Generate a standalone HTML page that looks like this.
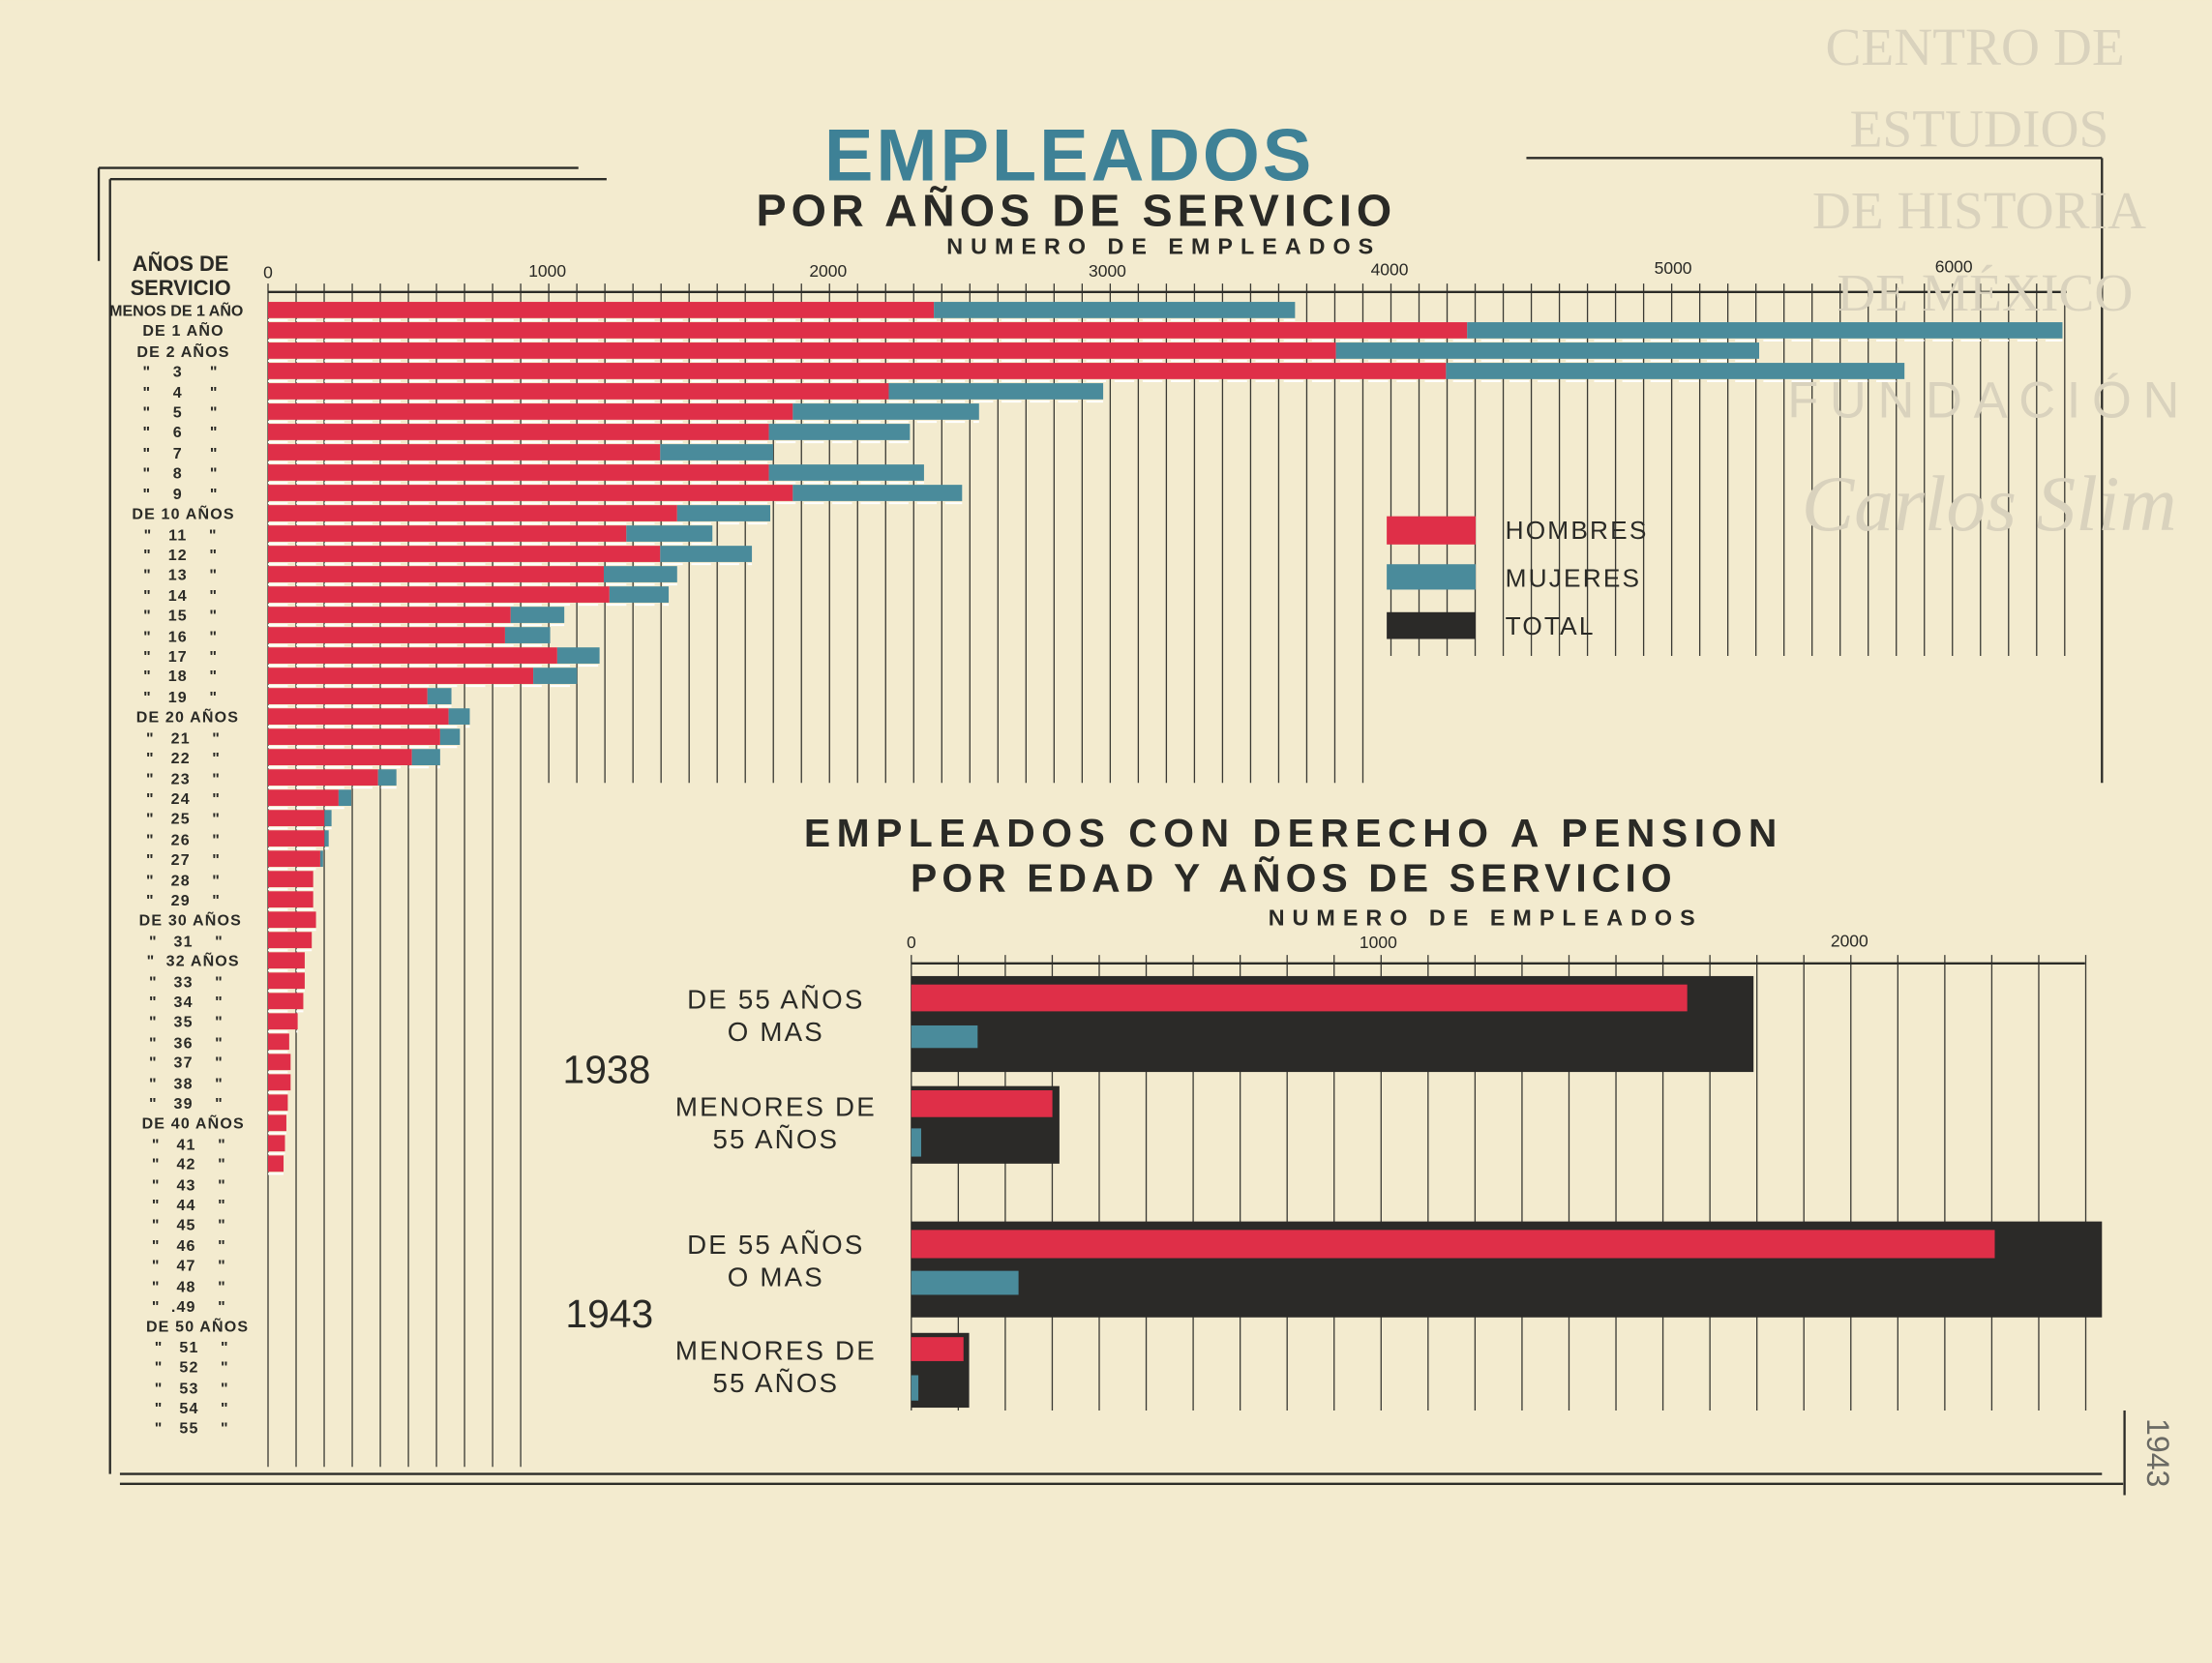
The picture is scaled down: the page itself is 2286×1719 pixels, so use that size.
<!DOCTYPE html>
<html><head><meta charset="utf-8">
<style>
html,body{margin:0;padding:0;background:#f3ebcf;}
svg{display:block;}
text{font-family:"Liberation Sans","DejaVu Sans",sans-serif;}
#lbl text{white-space:pre;}
</style></head>
<body>
<svg id="s" width="2286" height="1719" viewBox="0 0 1568 1179" xmlns="http://www.w3.org/2000/svg">
<rect width="1568" height="1179" fill="#f3ebcf"/>
<g id="grid" stroke="#3a3a34" stroke-width="0.9"></g>
<g id="bars"></g>
<g stroke="#2c2c28" fill="none" stroke-width="1.6">
<line x1="70" y1="119" x2="410" y2="119"/>
<line x1="78" y1="127" x2="430" y2="127"/>
<line x1="70" y1="119" x2="70" y2="185"/>
<line x1="78" y1="127" x2="78" y2="1045"/>
<line x1="1082" y1="112" x2="1490" y2="112"/>
<line x1="1490" y1="112" x2="1490" y2="555"/>
<line x1="85" y1="1045" x2="1490" y2="1045"/>
<line x1="85" y1="1052" x2="1505" y2="1052"/>
<line x1="1506" y1="1000" x2="1506" y2="1060"/>
<line x1="190" y1="207" x2="1465" y2="207"/>
<line x1="646" y1="683" x2="1478" y2="683"/>
</g>
<text x="758" y="128" text-anchor="middle" font-size="52" font-weight="bold" fill="#3e8196" letter-spacing="2">EMPLEADOS</text>
<text x="763" y="160" text-anchor="middle" font-size="32" font-weight="bold" fill="#2a2a26" letter-spacing="3.5">POR AÑOS DE SERVICIO</text>
<text x="825" y="180" text-anchor="middle" font-size="16" font-weight="bold" fill="#2a2a26" letter-spacing="5.5">NUMERO DE EMPLEADOS</text>
<text x="917" y="600" text-anchor="middle" font-size="28" font-weight="bold" fill="#2a2a26" letter-spacing="4.5">EMPLEADOS CON DERECHO A PENSION</text>
<text x="917" y="632" text-anchor="middle" font-size="28" font-weight="bold" fill="#2a2a26" letter-spacing="3.5">POR EDAD Y AÑOS DE SERVICIO</text>
<text x="1053" y="656" text-anchor="middle" font-size="16" font-weight="bold" fill="#2a2a26" letter-spacing="5.5">NUMERO DE EMPLEADOS</text>
<g font-size="12" fill="#2a2a26" text-anchor="middle">
<text x="190" y="197">0</text><text x="388" y="196">1000</text><text x="587" y="196">2000</text><text x="785" y="196">3000</text><text x="985" y="195">4000</text><text x="1186" y="194">5000</text><text x="1385" y="193">6000</text>
<text x="646" y="672">0</text><text x="977" y="672">1000</text><text x="1311" y="671">2000</text>
</g>
<text x="128" y="192" text-anchor="middle" font-size="15" font-weight="bold" fill="#2a2a26">AÑOS DE</text>
<text x="128" y="209" text-anchor="middle" font-size="15" font-weight="bold" fill="#2a2a26">SERVICIO</text>
<g font-size="11" font-weight="bold" fill="#2a2a26" text-anchor="middle" id="lbl" letter-spacing="0.8">
<text x="125" y="224" letter-spacing="0">MENOS DE 1 AÑO</text>
<text x="130" y="238">DE 1 AÑO</text>
<text x="130" y="253">DE 2 AÑOS</text>
<text x="128" y="267">"    3     "</text>
<text x="128" y="282">"    4     "</text>
<text x="128" y="296">"    5     "</text>
<text x="128" y="310">"    6     "</text>
<text x="128" y="325">"    7     "</text>
<text x="128" y="339">"    8     "</text>
<text x="128" y="354">"    9     "</text>
<text x="130" y="368">DE 10 AÑOS</text>
<text x="128" y="383">"   11    "</text>
<text x="128" y="397">"   12    "</text>
<text x="128" y="411">"   13    "</text>
<text x="128" y="426">"   14    "</text>
<text x="128" y="440">"   15    "</text>
<text x="128" y="455">"   16    "</text>
<text x="128" y="469">"   17    "</text>
<text x="128" y="483">"   18    "</text>
<text x="128" y="498">"   19    "</text>
<text x="133" y="512">DE 20 AÑOS</text>
<text x="130" y="527">"   21    "</text>
<text x="130" y="541">"   22    "</text>
<text x="130" y="556">"   23    "</text>
<text x="130" y="570">"   24    "</text>
<text x="130" y="584">"   25    "</text>
<text x="130" y="599">"   26    "</text>
<text x="130" y="613">"   27    "</text>
<text x="130" y="628">"   28    "</text>
<text x="130" y="642">"   29    "</text>
<text x="135" y="656">DE 30 AÑOS</text>
<text x="132" y="671">"   31    "</text>
<text x="137" y="685">"  32 AÑOS</text>
<text x="132" y="700">"   33    "</text>
<text x="132" y="714">"   34    "</text>
<text x="132" y="728">"   35    "</text>
<text x="132" y="743">"   36    "</text>
<text x="132" y="757">"   37    "</text>
<text x="132" y="772">"   38    "</text>
<text x="132" y="786">"   39    "</text>
<text x="137" y="800">DE 40 AÑOS</text>
<text x="134" y="815">"   41    "</text>
<text x="134" y="829">"   42    "</text>
<text x="134" y="844">"   43    "</text>
<text x="134" y="858">"   44    "</text>
<text x="134" y="872">"   45    "</text>
<text x="134" y="887">"   46    "</text>
<text x="134" y="901">"   47    "</text>
<text x="134" y="916">"   48    "</text>
<text x="134" y="930">"  .49    "</text>
<text x="140" y="944">DE 50 AÑOS</text>
<text x="136" y="959">"   51    "</text>
<text x="136" y="973">"   52    "</text>
<text x="136" y="988">"   53    "</text>
<text x="136" y="1002">"   54    "</text>
<text x="136" y="1016">"   55    "</text>
</g>
<rect x="983" y="366" width="63" height="20" fill="#df2f48"/>
<rect x="983" y="400" width="63" height="18" fill="#4a8b9b"/>
<rect x="983" y="434" width="63" height="19" fill="#2b2a28"/>
<g font-size="18" fill="#2a2a26" letter-spacing="1.5">
<text x="1067" y="382">HOMBRES</text><text x="1067" y="416">MUJERES</text><text x="1067" y="450">TOTAL</text>
</g>
<g font-size="19" fill="#2a2a26" text-anchor="middle" letter-spacing="1.5">
<text x="550" y="715">DE 55 AÑOS</text><text x="550" y="738">O MAS</text>
<text x="550" y="791">MENORES DE</text><text x="550" y="814">55 AÑOS</text>
<text x="550" y="889">DE 55 AÑOS</text><text x="550" y="912">O MAS</text>
<text x="550" y="964">MENORES DE</text><text x="550" y="987">55 AÑOS</text>
</g>
<text x="430" y="768" text-anchor="middle" font-size="28" fill="#2a2a26">1938</text>
<text x="432" y="941" text-anchor="middle" font-size="28" fill="#2a2a26">1943</text>
<g fill="#d9d2bd" text-anchor="middle" font-size="38">
<text x="1400" y="46" style="font-family:'Liberation Serif',serif">CENTRO DE</text>
<text x="1403" y="104" style="font-family:'Liberation Serif',serif">ESTUDIOS</text>
<text x="1403" y="162" style="font-family:'Liberation Serif',serif">DE HISTORIA</text>
<text x="1407" y="220" style="font-family:'Liberation Serif',serif">DE MÉXICO</text>
<text x="1410" y="296" font-size="36" letter-spacing="8">FUNDACIÓN</text>
<text x="1410" y="376" font-size="56" font-style="italic" style="font-family:'Liberation Serif',serif">Carlos Slim</text>
</g>
<text transform="translate(1522,1030) rotate(90)" font-size="22" fill="#6a6a64" text-anchor="middle">1943</text>
</svg>
<script>
var NS="http://www.w3.org/2000/svg";
function el(p,t,a){var e=document.createElementNS(NS,t);for(var k in a)e.setAttribute(k,a[k]);p.appendChild(e);return e;}
var g=document.getElementById('grid'),b=document.getElementById('bars');
for(var i=0;i<=64;i++){var x=190+i*19.9;if(x>1466)break;var yb=x<380?1040:(x<970?555:465);
 el(g,'line',{x1:x,y1:201,x2:x,y2:yb});}
for(var i=0;i<=25;i++){var x=646+i*33.3;el(g,'line',{x1:x,y1:677,x2:x,y2:1000});}
var R="#df2f48",B="#4a8b9b",K="#2b2a28";
var d=[[662,918],[1040,1462],[947,1247],[1025,1350],[630,782],[562,694],[545,645],[468,548],[545,655],[562,682],[480,546],[444,505],[468,533],[428,480],[432,474],[362,400],[358,390],[395,425],[378,409],[303,320],[318,333],[312,326],[292,312],[268,281],[240,249],[230,235],[230,233],[227,229],[222,0],[222,0],[224,0],[221,0],[216,0],[216,0],[215,0],[211,0],[205,0],[206,0],[206,0],[204,0],[203,0],[202,0],[201,0]];
for(var i=0;i<d.length;i++){var y=214+i*14.41;
 el(b,'rect',{x:190,y:y,width:d[i][0]-190,height:11.5,fill:R});
 if(d[i][1])el(b,'rect',{x:d[i][0],y:y,width:d[i][1]-d[i][0],height:11.5,fill:B});
 el(b,'line',{x1:190,y1:y+13,x2:Math.max(d[i][0],d[i][1]),y2:y+13,stroke:"#fff",'stroke-width':1.4,'stroke-dasharray':'14 6'});}
var bb=[[646,692,1243,68,K],[646,698,1196,19,R],[646,727,693,16,B],
[646,770,751,55,K],[646,773,746,19,R],[646,800,653,20,B],
[646,866,1490,68,K],[646,872,1414,20,R],[646,901,722,17,B],
[646,945,687,53,K],[646,948,683,17,R],[646,975,651,18,B]];
bb.forEach(function(r){el(b,'rect',{x:r[0],y:r[1],width:r[2]-r[0],height:r[3],fill:r[4]});});
</script>
</body></html>
